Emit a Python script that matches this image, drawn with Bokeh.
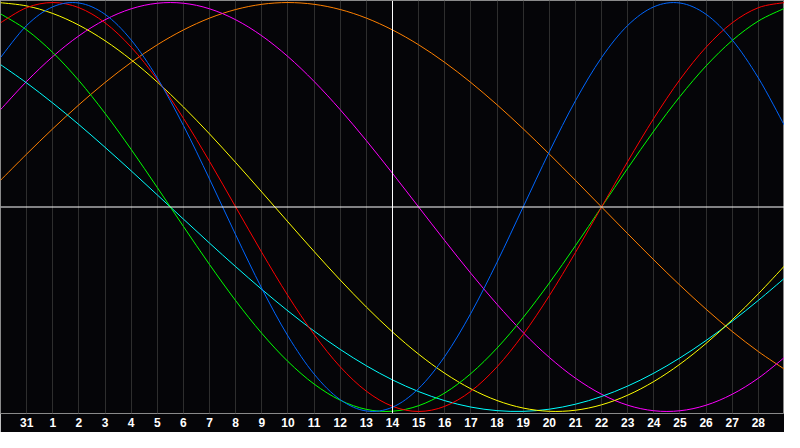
from bokeh.plotting import figure
from bokeh.models import Range1d, FixedTicker, Span
from bokeh.embed import file_html
from bokeh.resources import INLINE

# Day positions (index of each day on the chart, Jan 30 .. Mar 1)
day_index = list(range(31))
# Tick labels for the days shown on the axis (at positions 1..29)
tick_positions = list(range(1, 30))
tick_labels = ["31"] + [str(d) for d in range(1, 29)]

# Biorhythm cycle values per day (-1 .. 1)
blue = [0.7308, 0.8879, 0.9791, 0.9977, 0.9423, 0.8170, 0.6311, 0.3984, 0.1362, -0.1362,
        -0.3984, -0.6311, -0.8170, -0.9423, -0.9977, -0.9791, -0.8879, -0.7308, -0.5196, -0.2698,
        0.0, 0.2698, 0.5196, 0.7308, 0.8879, 0.9791, 0.9977, 0.9423, 0.8170, 0.6311, 0.3984]
red = [0.9010, 0.9749, 1.0, 0.9749, 0.9010, 0.7818, 0.6235, 0.4339, 0.2225, 0.0,
       -0.2225, -0.4339, -0.6235, -0.7818, -0.9010, -0.9749, -1.0, -0.9749, -0.9010, -0.7818,
       -0.6235, -0.4339, -0.2225, 0.0, 0.2225, 0.4339, 0.6235, 0.7818, 0.9010, 0.9749, 1.0]
green = [0.9450, 0.8660, 0.7557, 0.6182, 0.4582, 0.2817, 0.0951, -0.0951, -0.2817, -0.4582,
         -0.6182, -0.7557, -0.8660, -0.9450, -0.9898, -0.9989, -0.9718, -0.9096, -0.8146, -0.6901,
         -0.5406, -0.3717, -0.1893, 0.0, 0.1893, 0.3717, 0.5406, 0.6901, 0.8146, 0.9096, 0.9718]
magenta = [0.4759, 0.6142, 0.7357, 0.8372, 0.9158, 0.9694, 0.9966, 0.9966, 0.9694, 0.9158,
           0.8372, 0.7357, 0.6142, 0.4759, 0.3247, 0.1646, 0.0, -0.1646, -0.3247, -0.4759,
           -0.6142, -0.7357, -0.8372, -0.9158, -0.9694, -0.9966, -0.9966, -0.9694, -0.9158, -0.8372, -0.7357]
yellow = [0.9993, 0.9834, 0.9465, 0.8894, 0.8133, 0.7199, 0.6112, 0.4894, 0.3572, 0.2174,
          0.0730, -0.0730, -0.2174, -0.3572, -0.4894, -0.6112, -0.7199, -0.8133, -0.8894, -0.9465,
          -0.9834, -0.9993, -0.9940, -0.9675, -0.9204, -0.8536, -0.7686, -0.6671, -0.5517, -0.4244, -0.2881]
orange = [0.1305, 0.2588, 0.3827, 0.5, 0.6088, 0.7071, 0.7934, 0.8660, 0.9239, 0.9659,
          0.9914, 1.0, 0.9914, 0.9659, 0.9239, 0.8660, 0.7934, 0.7071, 0.6088, 0.5,
          0.3827, 0.2588, 0.1305, 0.0, -0.1305, -0.2588, -0.3827, -0.5, -0.6088, -0.7071, -0.7934]
cyan = [0.6966, 0.6068, 0.5085, 0.4031, 0.2920, 0.1769, 0.0592, -0.0592, -0.1769, -0.2920,
        -0.4031, -0.5085, -0.6068, -0.6966, -0.7766, -0.8457, -0.9028, -0.9473, -0.9786, -0.9960,
        -0.9996, -0.9890, -0.9646, -0.9267, -0.8758, -0.8127, -0.7380, -0.6529, -0.5586, -0.4566, -0.3482]

today_index = 15

series = [
    (orange, "#ff8000"),
    (magenta, "#ff00ff"),
    (cyan, "#00ffff"),
    (yellow, "#ffff00"),
    (green, "#00ff00"),
    (red, "#ff0000"),
    (blue, "#0066ff"),
]

BG = "#050508"
p = figure(width=784, height=432, output_backend="svg", toolbar_location=None,
           x_range=Range1d(0, 30), y_range=Range1d(-1.01, 1.01),
           background_fill_color=BG, border_fill_color=BG,
           min_border_left=0, min_border_right=0, min_border_top=0, min_border_bottom=19)

p.outline_line_color = "#8a8a8a"
p.outline_line_width = 1

p.yaxis.visible = False
p.ygrid.grid_line_color = None

p.xgrid.ticker = FixedTicker(ticks=tick_positions)
p.xgrid.grid_line_color = "#2e2e2e"
p.xgrid.grid_line_width = 1

ax = p.xaxis[0]
ax.ticker = FixedTicker(ticks=tick_positions)
ax.major_label_overrides = {t: lab for t, lab in zip(tick_positions, tick_labels)}
ax.axis_line_color = None
ax.major_tick_line_color = None
ax.minor_tick_line_color = None
ax.major_tick_out = 0
ax.major_tick_in = 0
ax.major_label_standoff = 4
ax.major_label_text_color = "white"
ax.major_label_text_font = "Liberation Sans"
ax.major_label_text_font_style = "bold"
ax.major_label_text_font_size = "12px"

p.add_layout(Span(location=0, dimension="width", line_color="white", line_width=1))
p.add_layout(Span(location=today_index, dimension="height", line_color="white", line_width=1))


def smooth_segments(xs, ys):
    """Catmull-Rom style smoothing of the daily points into cubic Bezier segments."""
    n = len(xs)
    x0, y0, x1, y1, cx0, cy0, cx1, cy1 = [], [], [], [], [], [], [], []
    for i in range(n - 1):
        a = max(i - 1, 0)
        b = min(i + 2, n - 1)
        x0.append(xs[i]); y0.append(ys[i])
        x1.append(xs[i + 1]); y1.append(ys[i + 1])
        cx0.append(xs[i] + (xs[i + 1] - xs[a]) / 6.0)
        cy0.append(ys[i] + (ys[i + 1] - ys[a]) / 6.0)
        cx1.append(xs[i + 1] - (xs[b] - xs[i]) / 6.0)
        cy1.append(ys[i + 1] - (ys[b] - ys[i]) / 6.0)
    return dict(x0=x0, y0=y0, x1=x1, y1=y1, cx0=cx0, cy0=cy0, cx1=cx1, cy1=cy1)


for vals, col in series:
    seg = smooth_segments(day_index, vals)
    p.bezier(x0=seg["x0"], y0=seg["y0"], x1=seg["x1"], y1=seg["y1"],
             cx0=seg["cx0"], cy0=seg["cy0"], cx1=seg["cx1"], cy1=seg["cy1"],
             line_color=col, line_width=1)

open("out.html", "w").write(file_html(p, INLINE))
